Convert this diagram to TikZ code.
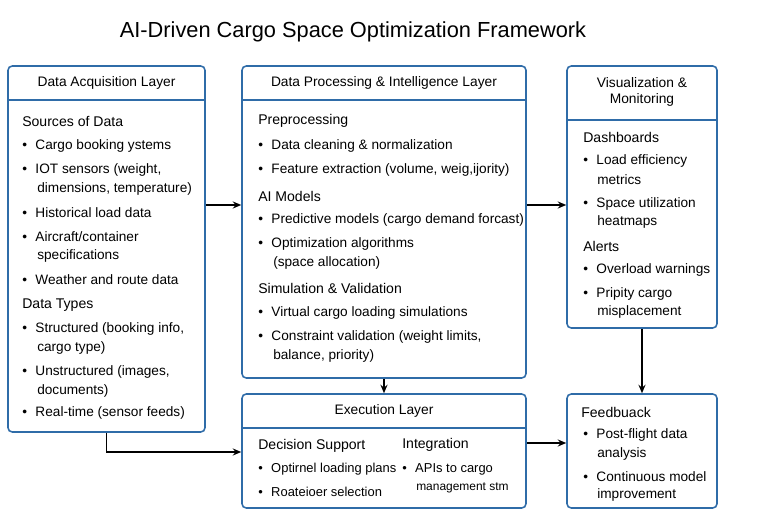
\documentclass[tikz,border=0pt]{standalone}
\usepackage{fontspec}
\setmainfont{Liberation Sans}
\usetikzlibrary{arrows.meta,positioning,calc}
\definecolor{boxblue}{HTML}{2F6CA8}
\begin{document}
\begin{tikzpicture}[x=0.025cm,y=-0.025cm,
    box/.style={draw=boxblue,line width=1.1pt,rounded corners=3pt,inner sep=0pt},
    head/.style={font=\fontsize{9.8}{12}\selectfont},
    txt/.style={anchor=west,inner sep=0pt,font=\fontsize{9.7}{12}\selectfont},
    sub/.style={txt,font=\fontsize{10}{12}\selectfont},
    flow/.style={-{Stealth[length=6pt,width=5pt]},line width=1pt}]
    \useasboundingbox (0,0) rectangle (772,518);
    % Title
    \node[font=\fontsize{15.5}{18}\selectfont] (title) at (353,32) {AI-Driven Cargo Space Optimization Framework};

    % Boxes
    \node[box,minimum width=197*0.025cm,minimum height=366*0.025cm] (acq) at (106.5,249) {};
    \node[box,minimum width=284*0.025cm,minimum height=312*0.025cm] (proc) at (384,222) {};
    \node[box,minimum width=150*0.025cm,minimum height=262*0.025cm] (vis) at (642,197) {};
    \node[box,minimum width=284*0.025cm,minimum height=114*0.025cm] (exec) at (384,451) {};
    \node[box,minimum width=150*0.025cm,minimum height=114*0.025cm] (fb) at (642,451) {};

    % Header dividers
    \draw[boxblue,line width=1pt] (8,100) -- (205,100);
    \draw[boxblue,line width=1pt] (242,100) -- (526,100);
    \draw[boxblue,line width=1pt] (567,120) -- (717,120);
    \draw[boxblue,line width=1pt] (242,428) -- (526,428);

    % Headers
    \node[head] at (106.5,83) {Data Acquisition Layer};
    \node[head] at (384,83) {Data Processing \& Intelligence Layer};
    \node[head,align=center] at (642,92) {Visualization \&\\Monitoring};
    \node[head] at (384,411) {Execution Layer};

    % Data acquisition
    \node[sub] at (22,121) {Sources of Data};
    \foreach \y/\t in {146/{Cargo booking ystems},170/{IOT sensors (weight,},213/{Historical load data},237/{Aircraft/container},280/{Weather and route data},329/{Structured (booking info,},372/{Unstructured (images,},413/{Real-time (sensor feeds)}}
        \node[txt] at (22,\y) {•\hspace{6pt}\t};
    \foreach \y/\t in {189/{dimensions, temperature)},256/{specifications},348/{cargo type)},391/{documents)}}
        \node[txt] at (37,\y) {\t};
    \node[sub] at (22,305) {Data Types};

    % Processing
    \node[sub] at (258,121) {Preprocessing};
    \node[sub] at (258,196) {AI Models};
    \node[sub] at (258,288) {Simulation \& Validation};
    \foreach \y/\t in {146/{Data cleaning \& normalization},170/{Feature extraction (volume, weig,ijority)},220/{Predictive models (cargo demand forcast)},244/{Optimization algorithms},313/{Virtual cargo loading simulations},337/{Constraint validation (weight limits,}}
        \node[txt] at (258,\y) {•\hspace{6pt}\t};
    \foreach \y/\t in {263/{(space allocation)},356/{balance, priority)}}
        \node[txt] at (273,\y) {\t};

    % Visualization
    \node[sub] at (583,137) {Dashboards};
    \node[sub] at (583,246) {Alerts};
    \foreach \y/\t in {161/{Load efficiency},204/{Space utilization},270/{Overload warnings},294/{Pripity cargo}}
        \node[txt] at (583,\y) {•\hspace{6pt}\t};
    \foreach \y/\t in {180/metrics,222/heatmaps,312/misplacement}
        \node[txt] at (597,\y) {\t};

    % Execution
    \node[sub] at (258,446) {Decision Support};
    \node[sub] at (402,445) {Integration};
    \node[txt,font=\fontsize{9.2}{11}\selectfont] at (258,469) {•\hspace{6pt}Optirnel loading plans};
    \node[txt,font=\fontsize{9.2}{11}\selectfont] at (258,492) {•\hspace{6pt}Roateioer selection};
    \node[txt,font=\fontsize{9.2}{11}\selectfont] at (402,469) {•\hspace{6pt}APIs to cargo};
    \node[txt,font=\fontsize{8.5}{10}\selectfont] at (416,488) {management stm};

    % Feedback
    \node[sub] at (581,412) {Feedbuack};
    \foreach \y/\t in {435/{Post-flight data},477/{Continuous model}}
        \node[txt] at (583,\y) {•\hspace{6pt}\t};
    \foreach \y/\t in {454/analysis,495/improvement}
        \node[txt] at (597,\y) {\t};

    % Connectors
    \draw[flow] (acq.east |- 0,205) -- (proc.west |- 0,205);
    \draw[flow] (proc.east |- 0,205) -- (vis.west |- 0,205);
    \draw[flow] (proc.south) -- (exec.north);
    \draw[flow] (vis.south) -- (fb.north);
    \draw[flow] (exec.east |- 0,443) -- (fb.west |- 0,443);
    \draw[flow] (acq.south) -- (106.5,452) -- (exec.west |- 0,452);
\end{tikzpicture}
\end{document}
